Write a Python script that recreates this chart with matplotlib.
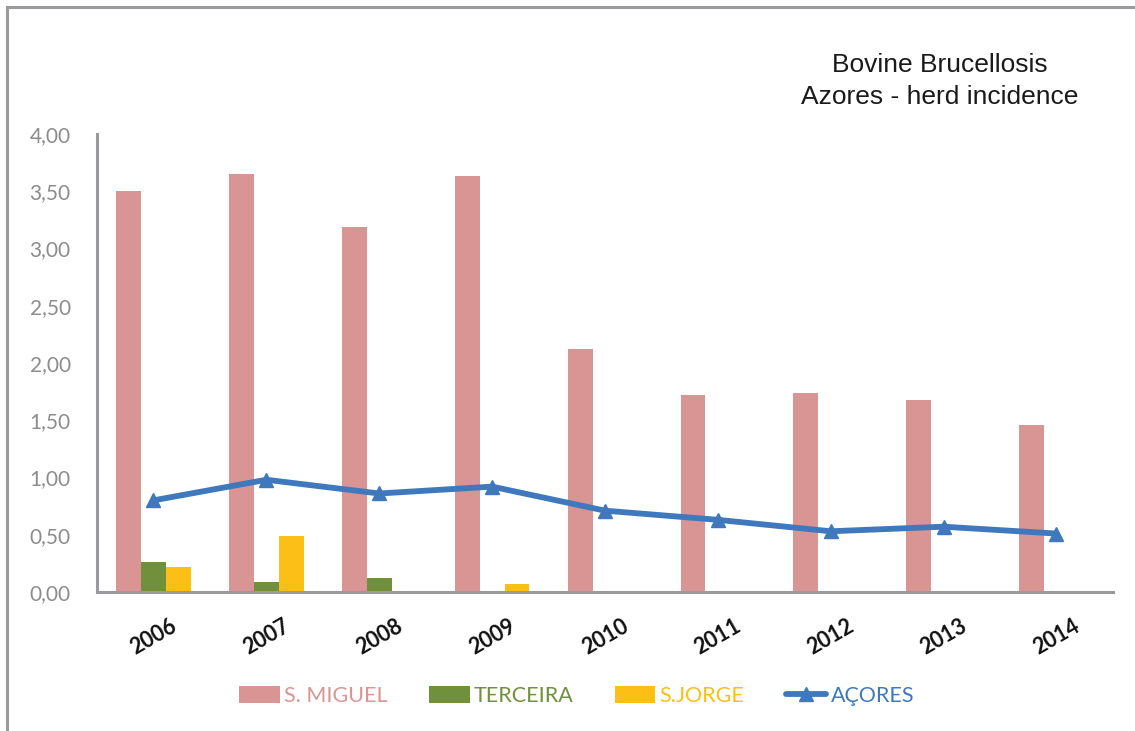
## --- BOVINE BRUCELLOSIS, AZORES --- ##
import matplotlib
matplotlib.use('Agg')
import matplotlib.pyplot as plt
import matplotlib.transforms as mtransforms
from matplotlib.lines import Line2D
from matplotlib.ticker import FuncFormatter
import numpy as np

# -- DATA -- #
years = ['2006', '2007', '2008', '2009', '2010', '2011', '2012', '2013', '2014']
s_miguel = [3.50, 3.65, 3.19, 3.63, 2.12, 1.72, 1.74, 1.68, 1.46]
terceira = [0.26, 0.09, 0.12, 0.0, 0.0, 0.0, 0.0, 0.0, 0.0]
s_jorge = [0.22, 0.49, 0.0, 0.07, 0.0, 0.0, 0.0, 0.0, 0.0]
acores = [0.80, 0.98, 0.86, 0.92, 0.71, 0.63, 0.53, 0.57, 0.51]

# -- STYLE -- #
c_miguel = '#d99594'
c_terceira = '#71903b'
c_jorge = '#fcbf17'
c_acores = '#3f78bd'
c_axis = '#9a9a9e'

fig = plt.figure(figsize=(11.35, 7.31), dpi=100)
ax = fig.add_axes([0.0855, 0.1902, 0.895, 0.6265])

x = np.arange(len(years))
w = 0.22
b1 = ax.bar(x - w, s_miguel, w, color=c_miguel, label='S. MIGUEL')
b2 = ax.bar(x, terceira, w, color=c_terceira, label='TERCEIRA')
b3 = ax.bar(x + w, s_jorge, w, color=c_jorge, label='S.JORGE')
l1, = ax.plot(x, acores, '-^', color=c_acores, linewidth=4.2, markersize=10,
              label='AÇORES', solid_capstyle='round')

ax.set_xlim(-0.5, 8.5)
ax.set_ylim(0, 4)
ax.set_yticks(np.arange(0, 4.01, 0.5))
ax.yaxis.set_major_formatter(FuncFormatter(lambda v, p: '{:.2f}'.format(v).replace('.', ',')))
ax.set_xticks(x)
ax.set_xticklabels(years, rotation=30, ha='center', fontsize=15.5,
                   fontweight='bold', family='Lato', color='#111111')
offset = mtransforms.ScaledTranslation(-14 / 100, 0, fig.dpi_scale_trans)
for lab in ax.get_xticklabels():
    lab.set_transform(lab.get_transform() + offset)
ax.tick_params(axis='x', length=0, pad=17)
ax.tick_params(axis='y', length=0, pad=19, labelsize=15, labelcolor='#8c8c8c')
for lab in ax.get_yticklabels():
    lab.set_family('Lato')

for side in ['top', 'right']:
    ax.spines[side].set_visible(False)
for side in ['left', 'bottom']:
    ax.spines[side].set_color(c_axis)
    ax.spines[side].set_linewidth(2.2)

# -- TITLE -- #
fig.text(0.828, 0.889, 'Bovine Brucellosis\nAzores - herd incidence', ha='center',
         va='center', fontsize=19, family='Liberation Sans', color='#1a1a1a',
         linespacing=1.4)

# -- OUTER FRAME (left and top only) -- #
fig.add_artist(Line2D([0.0066, 0.0066], [0.0, 0.99], color=c_axis, linewidth=2.2))
fig.add_artist(Line2D([0.0066, 1.0], [0.99, 0.99], color=c_axis, linewidth=2.2))

# -- LEGEND -- #
leg = fig.legend([b1, b2, b3, l1], ['S. MIGUEL', 'TERCEIRA', 'S.JORGE', 'AÇORES'],
                 loc='center', bbox_to_anchor=(0.508, 0.048), ncol=4, frameon=False,
                 handlelength=1.9, handleheight=0.8, handletextpad=0.2,
                 columnspacing=1.9, prop={'family': 'Lato', 'size': 15.5})
for txt, col in zip(leg.get_texts(), [c_miguel, c_terceira, c_jorge, c_acores]):
    txt.set_color(col)

fig.savefig('out.png', dpi=100)
